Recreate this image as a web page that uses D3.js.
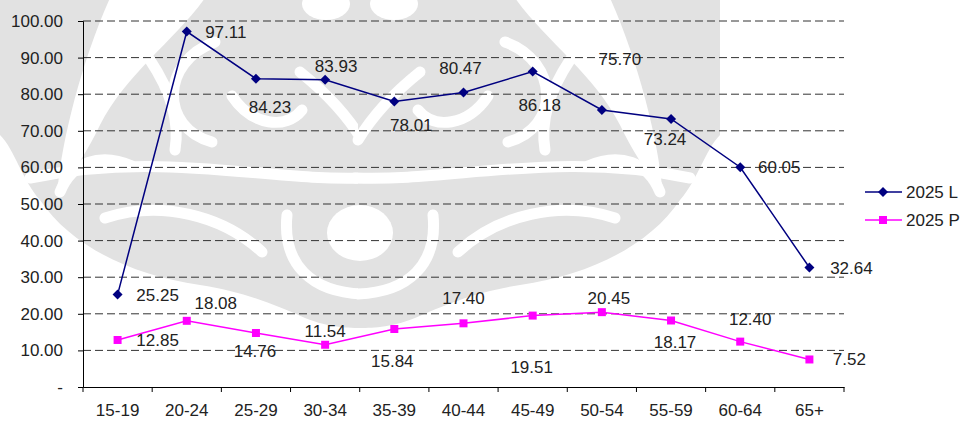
<!DOCTYPE html>
<html>
<head>
<meta charset="utf-8">
<script src="https://cdn.jsdelivr.net/npm/d3@7"></script>
<style>
  body { margin: 0; background: #fff; }
  svg text { font-family: "Liberation Sans", Arial, sans-serif; font-size: 17px; fill: #222; }
</style>
</head>
<body>
<div id="chart"></div>
<script>
// chart values
var categories = ["15-19", "20-24", "25-29", "30-34", "35-39", "40-44", "45-49", "50-54", "55-59", "60-64", "65+"];
var seriesL = [25.25, 97.11, 84.23, 83.93, 78.01, 80.47, 86.18, 75.70, 73.24, 60.05, 32.64];
var seriesP = [12.85, 18.08, 14.76, 11.54, 15.84, 17.40, 19.51, 20.45, 18.17, 12.40, 7.52];
var seriesNames = ["2025 L", "2025 P"];
var yTicks = [0, 10, 20, 30, 40, 50, 60, 70, 80, 90, 100];

// label nudges (px) for the data labels, as placed in the original
var labelShiftL = [[40, 0], [39, 0], [14, 28], [11, -14], [17, 24], [-3, -24], [7, 33], [18, -51], [-6, 20], [39, 0], [42, 0]];
var labelShiftP = [[40, 0], [29, -18], [-1, 18], [0, -14], [-2, 32], [0, -25], [-1, 51], [7, -14], [4, 22], [10, -23], [40, 0]];

var width = 962, height = 421;
var margin = { left: 83, right: 118, top: 21, bottom: 34 };

var svg = d3.select("#chart").append("svg")
  .attr("width", width)
  .attr("height", height);

// faint background emblem (watermark in the source image), left half mirrored
function drawWatermark() {
  var wm = svg.append("g").attr("class", "watermark");
  var halves = [null, "translate(720,0) scale(-1,1)"];
  halves.forEach(function (t) {
    var h = wm.append("g").attr("transform", t);
    h.append("path")
      .attr("fill", "#e2e2e2")
      .attr("d", "M362,0 L0,0 L0,135 C15,150 22,180 40,200 C70,245 130,275 200,285 C245,292 275,305 305,318 C330,328 350,328 362,328 Z");
    // white gap between the outer petal and the centre
    h.append("path")
      .attr("fill", "#fff")
      .attr("d", "M110,-2 L205,-2 C175,40 125,75 100,125 C88,150 75,172 58,186 C62,140 82,60 110,-2 Z");
    // white cuts
    var cuts = [
      "M60,192 C72,162 100,152 132,166",
      "M30,178 C160,150 270,182 365,178",
      "M215,42 C160,62 160,128 212,142",
      "M300,72 C330,96 350,120 362,140",
      "M232,96 C252,126 286,130 302,110",
      "M105,218 C160,200 222,215 262,252",
      "M287,215 C282,265 312,292 362,294",
      "M150,60 C170,90 180,120 175,150"
    ];
    h.selectAll(".cut")
      .data(cuts)
      .enter()
      .append("path")
      .attr("class", "cut")
      .attr("d", function (d) { return d; })
      .attr("fill", "none")
      .attr("stroke", "#fff")
      .attr("stroke-width", 11)
      .attr("stroke-linecap", "round");
    h.append("ellipse")
      .attr("cx", 326).attr("cy", 4).attr("rx", 24).attr("ry", 16)
      .attr("fill", "#fff");
  });
  wm.append("ellipse")
    .attr("cx", 360).attr("cy", 233).attr("rx", 33).attr("ry", 28)
    .attr("fill", "#fff");
}
drawWatermark();

var x = d3.scaleBand()
  .domain(categories)
  .range([margin.left, width - margin.right]);

var y = d3.scaleLinear()
  .domain([0, 100])
  .range([height - margin.bottom, margin.top]);

// gridlines
svg.append("g")
  .selectAll("line")
  .data(yTicks.filter(function (d) { return d > 0; }))
  .enter()
  .append("line")
  .attr("x1", margin.left)
  .attr("x2", width - margin.right)
  .attr("y1", function (d) { return y(d); })
  .attr("y2", function (d) { return y(d); })
  .attr("stroke", "#333")
  .attr("stroke-width", 1)
  .attr("stroke-dasharray", "8,4");

// y axis
var yAxis = svg.append("g")
  .attr("transform", "translate(" + margin.left + ",0)")
  .call(d3.axisLeft(y)
    .tickValues(yTicks)
    .tickSize(5)
    .tickPadding(15)
    .tickFormat(function (d) { return d === 0 ? "-" : d.toFixed(2); }));
yAxis.select(".domain").attr("stroke", "#000");
yAxis.selectAll(".tick line").attr("stroke", "#000");
yAxis.selectAll("text").attr("font-size", null).attr("font-family", null).attr("fill", null);

// x axis
var xAxis = svg.append("g")
  .attr("transform", "translate(0," + y(0) + ")")
  .call(d3.axisBottom(x).tickSize(0).tickPadding(17));
xAxis.select(".domain").attr("stroke", "#000");
xAxis.selectAll("text").attr("font-size", null).attr("font-family", null).attr("fill", null);

// category boundary ticks
svg.append("g")
  .selectAll("line")
  .data(d3.range(categories.length + 1))
  .enter()
  .append("line")
  .attr("x1", function (i) { return margin.left + i * x.step(); })
  .attr("x2", function (i) { return margin.left + i * x.step(); })
  .attr("y1", y(0))
  .attr("y2", y(0) + 5)
  .attr("stroke", "#000");

var cx = function (d, i) { return x(categories[i]) + x.bandwidth() / 2; };

function marker(sel, diamond, color) {
  sel.append("path")
    .attr("d", d3.symbol().type(d3.symbolSquare).size(diamond ? 50 : 64))
    .attr("transform", diamond ? "rotate(45)" : null)
    .attr("fill", color);
}

function drawSeries(values, color, diamond, shifts) {
  var g = svg.append("g");
  var line = d3.line()
    .x(cx)
    .y(function (d) { return y(d); });

  g.append("path")
    .datum(values)
    .attr("fill", "none")
    .attr("stroke", color)
    .attr("stroke-width", 1.5)
    .attr("d", line);

  g.selectAll(".marker")
    .data(values)
    .enter()
    .append("g")
    .attr("class", "marker")
    .attr("transform", function (d, i) { return "translate(" + cx(d, i) + "," + y(d) + ")"; })
    .call(marker, diamond, color);

  g.selectAll(".lbl")
    .data(values)
    .enter()
    .append("text")
    .attr("class", "lbl")
    .attr("text-anchor", "middle")
    .attr("x", function (d, i) { return cx(d, i) + shifts[i][0]; })
    .attr("y", function (d, i) { return y(d) + shifts[i][1] + 6; })
    .text(function (d) { return d.toFixed(2); });
}

drawSeries(seriesL, "#000080", true, labelShiftL);
drawSeries(seriesP, "#ff00ff", false, labelShiftP);

// legend
var legend = svg.append("g").attr("transform", "translate(865,192)");
var colors = ["#000080", "#ff00ff"];
seriesNames.forEach(function (name, i) {
  var row = legend.append("g").attr("transform", "translate(0," + i * 28 + ")");
  row.append("line")
    .attr("x1", 0).attr("x2", 37)
    .attr("stroke", colors[i])
    .attr("stroke-width", 1.5);
  row.append("g")
    .attr("transform", "translate(18,0)")
    .call(marker, i === 0, colors[i]);
  row.append("text")
    .attr("x", 41)
    .attr("y", 6)
    .text(name);
});
</script>
</body>
</html>
